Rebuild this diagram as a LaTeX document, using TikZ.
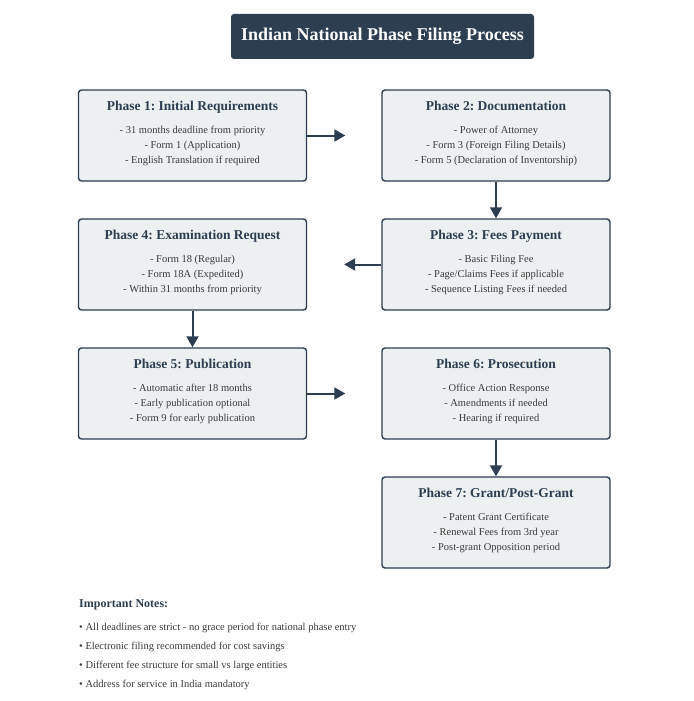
\documentclass[tikz,border=0pt]{standalone}
\usepackage{fontspec}
\setmainfont{Liberation Serif}
\usetikzlibrary{arrows.meta}
\definecolor{slate}{HTML}{2C3E50}
\definecolor{cloud}{HTML}{ECF0F1}
\definecolor{inktext}{HTML}{3A3A3A}
\frenchspacing

\newcommand{\phasehead}[1]{{\fontsize{13.5}{16}\selectfont\bfseries\color{slate}#1}\\[8pt]}
\newcommand{\phaseend}{\\[-9pt]\mbox{}}

\begin{document}
\begin{tikzpicture}[x=1pt,y=-1pt]
	\tikzstyle{phase} = [draw=slate,line width=1.4pt,fill=cloud,rounded corners=3pt,minimum width=228pt,minimum height=91pt,inner sep=0pt,align=center,text=inktext,font=\fontsize{10.5}{15}\selectfont]
	\tikzstyle{titlebox} = [fill=slate,rounded corners=3pt,minimum width=303pt,minimum height=45pt,text=white,font=\fontsize{18}{20}\selectfont\bfseries]
	\tikzstyle{flow} = [draw=slate,line width=2pt,-{Triangle[length=11pt,width=12pt]}]

	\useasboundingbox (0,0) rectangle (693,701);

	\node[titlebox] at (382.5,36.5) (title) {Indian National Phase Filing Process};

	\node[phase] at (192.5,135.5) (p1) {\phasehead{Phase 1: Initial Requirements}
		- 31 months deadline from priority\\ - Form 1 (Application)\\ - English Translation if required\phaseend};
	\node[phase] at (496,135.5) (p2) {\phasehead{Phase 2: Documentation}
		- Power of Attorney\\ - Form 3 (Foreign Filing Details)\\ - Form 5 (Declaration of Inventorship)\phaseend};
	\node[phase] at (496,264.5) (p3) {\phasehead{Phase 3: Fees Payment}
		- Basic Filing Fee\\ - Page/Claims Fees if applicable\\ - Sequence Listing Fees if needed\phaseend};
	\node[phase] at (192.5,264.5) (p4) {\phasehead{Phase 4: Examination Request}
		- Form 18 (Regular)\\ - Form 18A (Expedited)\\ - Within 31 months from priority\phaseend};
	\node[phase] at (192.5,393.5) (p5) {\phasehead{Phase 5: Publication}
		- Automatic after 18 months\\ - Early publication optional\\ - Form 9 for early publication\phaseend};
	\node[phase] at (496,393.5) (p6) {\phasehead{Phase 6: Prosecution}
		- Office Action Response\\ - Amendments if needed\\ - Hearing if required\phaseend};
	\node[phase] at (496,522.5) (p7) {\phasehead{Phase 7: Grant/Post-Grant}
		- Patent Grant Certificate\\ - Renewal Fees from 3rd year\\ - Post-grant Opposition period\phaseend};

	% flow between phases
	\begin{scope}[flow]
		\draw[shorten >=36pt] (p1) -- (p2);
		\draw (p2) -- (p3);
		\draw[shorten >=37pt] (p3) -- (p4);
		\draw (p4) -- (p5);
		\draw[shorten >=36pt] (p5) -- (p6);
		\draw (p6) -- (p7);
	\end{scope}

	\node[anchor=north west,align=left,inner sep=0pt,text=inktext,font=\fontsize{10.5}{19}\selectfont] at (79,599) (notes)
		{{\fontsize{12}{14}\selectfont\bfseries\color{slate}Important Notes:}\\[4pt]
		• All deadlines are strict - no grace period for national phase entry\\
		• Electronic filing recommended for cost savings\\
		• Different fee structure for small vs large entities\\
		• Address for service in India mandatory};
\end{tikzpicture}
\end{document}
